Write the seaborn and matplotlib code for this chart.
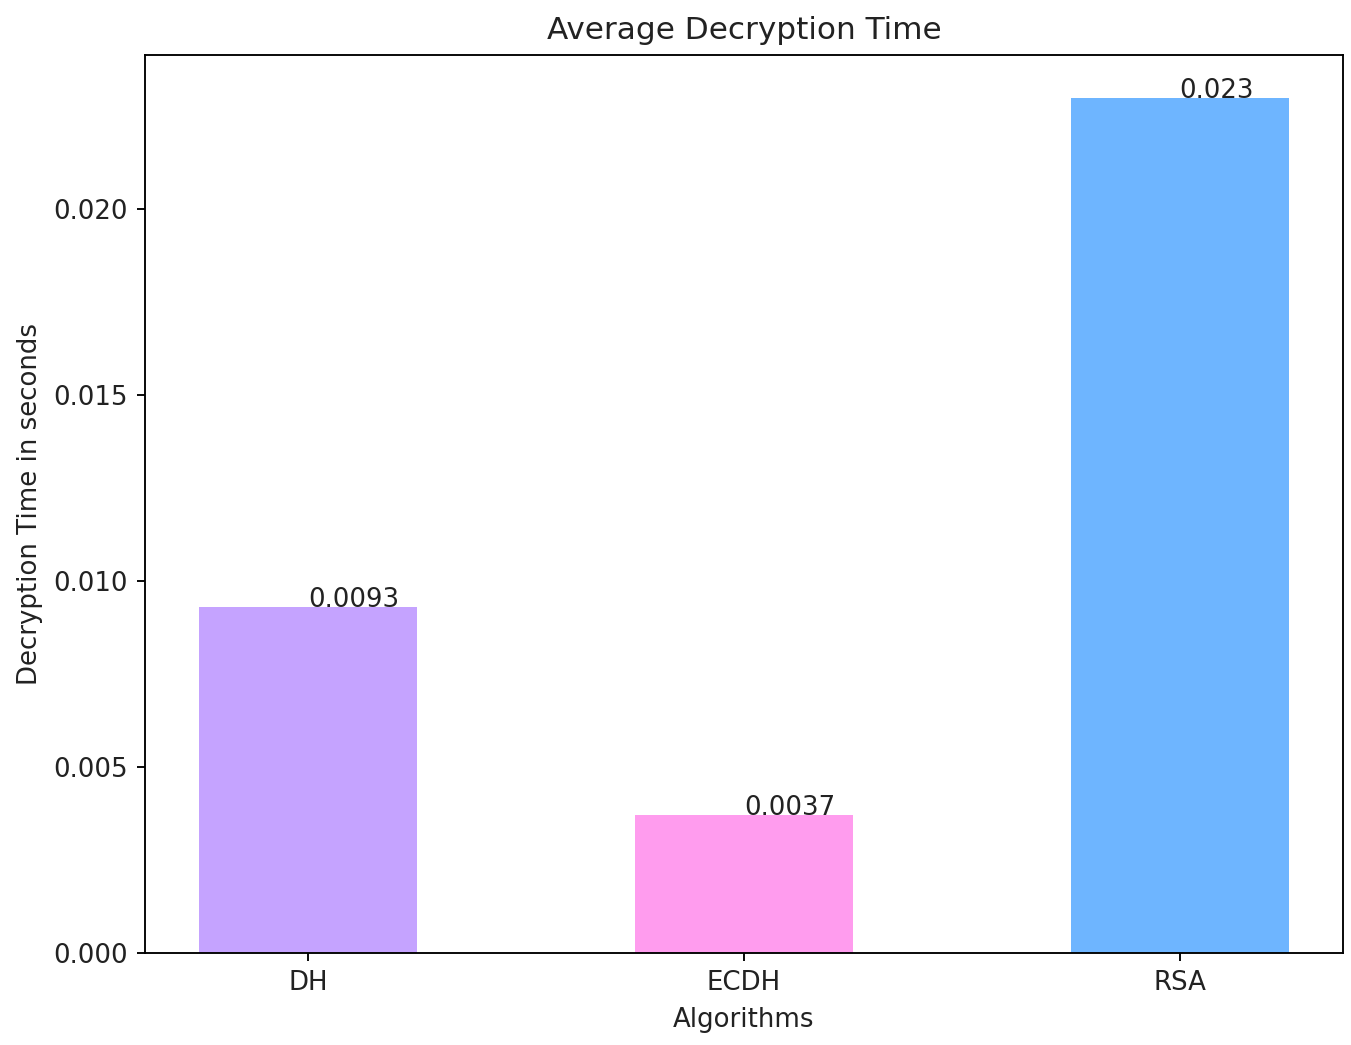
import matplotlib
matplotlib.use("Agg")
import matplotlib.pyplot as plt
import seaborn as sns
import pandas as pd

algorithms = ["DH", "ECDH", "RSA"]
times = [0.0093, 0.0037, 0.023]
colors = ["#C5A3FF", "#FF9CEE", "#6EB5FF"]

df = pd.DataFrame({"Algorithm": algorithms, "Time": times})

S = 1.69
F = 1.87
TC = "#222222"
plt.rcParams["font.size"] = 10 * F
plt.rcParams["text.color"] = TC
plt.rcParams["axes.labelcolor"] = TC
plt.rcParams["xtick.labelcolor"] = TC
plt.rcParams["ytick.labelcolor"] = TC
plt.rcParams["axes.linewidth"] = 0.8 * S
plt.rcParams["xtick.major.width"] = 0.8 * S
plt.rcParams["ytick.major.width"] = 0.8 * S
plt.rcParams["xtick.major.size"] = 3.5 * S
plt.rcParams["ytick.major.size"] = 3.5 * S
plt.rcParams["xtick.major.pad"] = 3.5 * F
plt.rcParams["ytick.major.pad"] = 3.5 * F

fig = plt.figure(figsize=(13.51, 10.45), dpi=100)
ax = fig.add_axes([0.1073, 0.0880, 0.9941 - 0.1073, 0.9474 - 0.0880])

sns.barplot(data=df, x="Algorithm", y="Time", hue="Algorithm",
            palette=colors, width=0.5, ax=ax, legend=False, saturation=1)

for i, v in enumerate(times):
    ax.text(i, v, str(v), fontsize=10 * F, color=TC)

ax.set_xlim(-0.375, 2.375)
ax.set_ylim(0, 0.023 * 1.05)
ax.set_yticks([0.0, 0.005, 0.010, 0.015, 0.020])
ax.set_yticklabels(["0.000", "0.005", "0.010", "0.015", "0.020"])
ax.set_title("Average Decryption Time", fontsize=12 * F, pad=6 * F, color=TC)
ax.set_xlabel("Algorithms", fontsize=10 * F, labelpad=4 * F)
ax.set_ylabel("Decryption Time in seconds", fontsize=10 * F, labelpad=4 * F)

fig.savefig("out.png", dpi=100)
